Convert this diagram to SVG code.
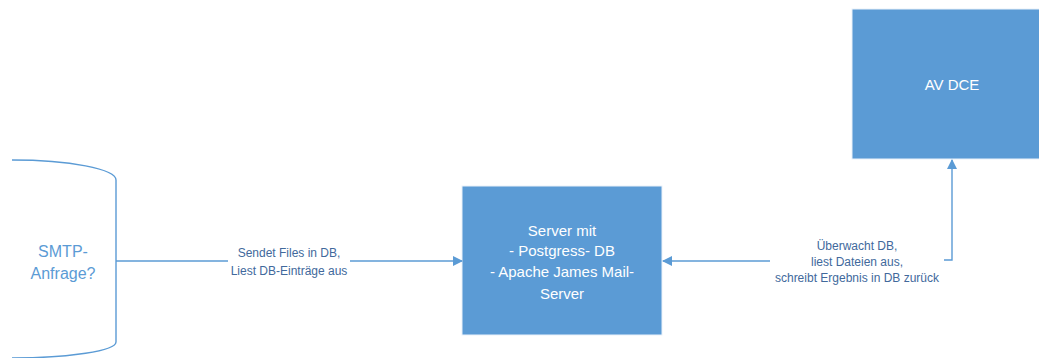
<svg xmlns="http://www.w3.org/2000/svg" width="1039" height="358" viewBox="0 0 1039 358">
<style>
.box{fill:#5B9BD5;stroke:#EAF1FA;stroke-width:1}
.ln{fill:none;stroke:#5B9BD5;stroke-width:1.4}
.wt{font-family:"Liberation Sans",Arial,sans-serif;font-size:15px;fill:#FFFFFF;text-anchor:middle}
.lbl{font-family:"Liberation Sans",Arial,sans-serif;font-size:12px;fill:#41699C;text-anchor:middle}
.st{font-family:"Liberation Sans",Arial,sans-serif;font-size:16px;fill:#5B9BD5;text-anchor:middle}
</style>
<defs>
<marker id="arr" markerWidth="10" markerHeight="10" refX="9" refY="5" orient="auto" markerUnits="userSpaceOnUse">
<path d="M0,0 L10,5 L0,10 Z" fill="#5B9BD5"/>
</marker>
</defs>
<rect width="1039" height="358" fill="#FFFFFF"/>
<g id="smtp">
<path class="ln" d="M12,160 A104,20 0 0 1 116,180 L116,342 A104,16 0 0 1 12,358"/>
<text class="st" x="63" y="257">SMTP-</text>
<text class="st" x="63" y="279">Anfrage?</text>
</g>
<g id="server">
<rect class="box" x="462" y="186" width="200" height="149"/>
<text class="wt" x="562" y="236">Server mit</text>
<text class="wt" x="562" y="256">- Postgress- DB</text>
<text class="wt" x="562" y="277">- Apache James Mail-</text>
<text class="wt" x="562" y="299">Server</text>
</g>
<g id="avdce">
<rect class="box" x="852" y="9" width="200" height="150"/>
<text class="wt" x="952" y="90">AV DCE</text>
</g>
<g id="connectors">
<path class="ln" d="M116,261 L228,261"/>
<path class="ln" d="M350,261 L462,261" marker-end="url(#arr)"/>
<text class="lbl" x="289" y="257">Sendet Files in DB,</text>
<text class="lbl" x="289" y="275">Liest DB-Einträge aus</text>
<path class="ln" d="M770,261 L663,261" marker-end="url(#arr)"/>
<path class="ln" d="M944,260 L952,260 L952,160" marker-end="url(#arr)"/>
<text class="lbl" x="857" y="250">Überwacht DB,</text>
<text class="lbl" x="857" y="266">liest Dateien aus,</text>
<text class="lbl" x="857" y="282">schreibt Ergebnis in DB zurück</text>
</g>
</svg>
